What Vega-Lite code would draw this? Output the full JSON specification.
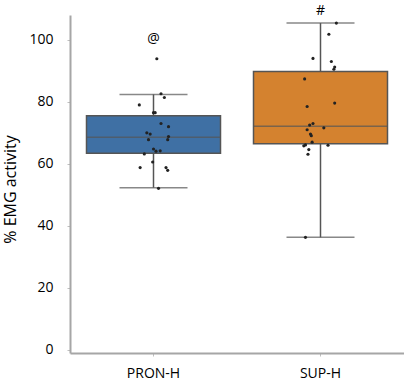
{
  "$schema": "https://vega.github.io/schema/vega-lite/v6.json",
  "width": 334,
  "height": 338,
  "autosize": {"type": "none"},
  "padding": {"left": 70, "top": 15, "right": 0, "bottom": 33},
  "background": "white",
  "config": {
    "view": {"stroke": null},
    "font": "Open Sans",
    "axis": {"grid": false, "labelFont": "Open Sans", "titleFont": "Open Sans", "labelColor": "#000", "titleColor": "#000", "domainColor": "#a6a6a6", "domainWidth": 2, "tickColor": "#bfbfbf", "tickSize": 3}
  },
  "datasets": {
    "boxes": [
      {"group": "PRON-H", "lower": 52.3, "q1": 63.4, "median": 68.6, "q3": 75.5, "upper": 82.4},
      {"group": "SUP-H", "lower": 36.3, "q1": 66.5, "median": 72.1, "q3": 89.8, "upper": 105.4}
    ],
    "points": [
      {"group": "PRON-H", "value": 93.9, "j": 0.04},
      {"group": "PRON-H", "value": 82.6, "j": 0.09},
      {"group": "PRON-H", "value": 81.4, "j": 0.13},
      {"group": "PRON-H", "value": 79.0, "j": -0.17},
      {"group": "PRON-H", "value": 76.5, "j": 0.0},
      {"group": "PRON-H", "value": 76.5, "j": 0.02},
      {"group": "PRON-H", "value": 73.0, "j": 0.09},
      {"group": "PRON-H", "value": 72.0, "j": 0.18},
      {"group": "PRON-H", "value": 70.0, "j": -0.08},
      {"group": "PRON-H", "value": 69.6, "j": -0.04},
      {"group": "PRON-H", "value": 68.8, "j": 0.18},
      {"group": "PRON-H", "value": 67.8, "j": 0.17},
      {"group": "PRON-H", "value": 67.8, "j": -0.06},
      {"group": "PRON-H", "value": 64.8, "j": 0.0},
      {"group": "PRON-H", "value": 64.1, "j": 0.03},
      {"group": "PRON-H", "value": 64.2, "j": 0.08},
      {"group": "PRON-H", "value": 63.2, "j": -0.11},
      {"group": "PRON-H", "value": 60.6, "j": -0.01},
      {"group": "PRON-H", "value": 58.8, "j": -0.16},
      {"group": "PRON-H", "value": 58.8, "j": 0.15},
      {"group": "PRON-H", "value": 57.9, "j": 0.17},
      {"group": "PRON-H", "value": 52.1, "j": 0.06},
      {"group": "SUP-H", "value": 105.4, "j": 0.19},
      {"group": "SUP-H", "value": 101.8, "j": 0.10},
      {"group": "SUP-H", "value": 94.0, "j": -0.09},
      {"group": "SUP-H", "value": 93.0, "j": 0.13},
      {"group": "SUP-H", "value": 91.2, "j": 0.17},
      {"group": "SUP-H", "value": 90.5, "j": 0.16},
      {"group": "SUP-H", "value": 87.4, "j": -0.19},
      {"group": "SUP-H", "value": 79.6, "j": 0.17},
      {"group": "SUP-H", "value": 78.5, "j": -0.16},
      {"group": "SUP-H", "value": 73.0, "j": -0.09},
      {"group": "SUP-H", "value": 72.5, "j": -0.13},
      {"group": "SUP-H", "value": 71.6, "j": 0.04},
      {"group": "SUP-H", "value": 71.0, "j": -0.16},
      {"group": "SUP-H", "value": 69.6, "j": -0.12},
      {"group": "SUP-H", "value": 69.1, "j": -0.11},
      {"group": "SUP-H", "value": 67.0, "j": -0.10},
      {"group": "SUP-H", "value": 66.1, "j": -0.18},
      {"group": "SUP-H", "value": 65.8, "j": -0.20},
      {"group": "SUP-H", "value": 66.0, "j": 0.09},
      {"group": "SUP-H", "value": 64.6, "j": -0.14},
      {"group": "SUP-H", "value": 63.1, "j": -0.15},
      {"group": "SUP-H", "value": 36.3, "j": -0.18}
    ],
    "notes": [
      {"group": "PRON-H", "label": "@", "value": 100.3},
      {"group": "SUP-H", "label": "#", "value": 109.4}
    ]
  },
  "encoding": {
    "x": {
      "field": "group", "type": "nominal", "sort": ["PRON-H", "SUP-H"],
      "scale": {"paddingInner": 0, "paddingOuter": 0},
      "axis": {"title": null, "labelAngle": 0, "labelFontSize": 14, "labelPadding": 10, "tickSize": 3}
    }
  },
  "layer": [
    {
      "data": {"name": "boxes"},
      "mark": {"type": "rule", "color": "#555555", "strokeWidth": 1.5},
      "encoding": {
        "y": {
          "field": "lower", "type": "quantitative",
          "scale": {"domain": [-1, 108], "nice": false, "zero": false},
          "axis": {"title": "% EMG activity", "values": [0, 20, 40, 60, 80, 100], "labelFontSize": 14, "labelPadding": 14, "titleFontSize": 16, "titleFontWeight": "normal", "titleX": -60, "titleY": 174, "titleAlign": "center", "titleBaseline": "middle", "titleAngle": -90}
        },
        "y2": {"field": "upper"}
      }
    },
    {
      "data": {"name": "boxes"},
      "mark": {"type": "tick", "color": "#555555", "thickness": 1.5, "size": 68},
      "encoding": {"y": {"field": "lower", "type": "quantitative"}}
    },
    {
      "data": {"name": "boxes"},
      "mark": {"type": "tick", "color": "#555555", "thickness": 1.5, "size": 68},
      "encoding": {"y": {"field": "upper", "type": "quantitative"}}
    },
    {
      "data": {"name": "boxes"},
      "mark": {"type": "bar", "size": 134, "stroke": "#555555", "strokeWidth": 1.5},
      "encoding": {
        "y": {"field": "q1", "type": "quantitative"},
        "y2": {"field": "q3"},
        "color": {"field": "group", "type": "nominal", "scale": {"domain": ["PRON-H", "SUP-H"], "range": ["#3f70a4", "#d4822f"]}, "legend": null}
      }
    },
    {
      "data": {"name": "boxes"},
      "mark": {"type": "tick", "color": "#555555", "thickness": 1.5, "size": 134},
      "encoding": {"y": {"field": "median", "type": "quantitative"}}
    },
    {
      "data": {"name": "points"},
      "mark": {"type": "circle", "color": "#222222", "opacity": 1, "size": 10},
      "encoding": {
        "y": {"field": "value", "type": "quantitative"},
        "xOffset": {"field": "j", "type": "quantitative", "scale": {"domain": [-1, 1]}}
      }
    },
    {
      "data": {"name": "notes"},
      "mark": {"type": "text", "fontSize": 14, "color": "#000", "baseline": "middle"},
      "encoding": {
        "y": {"field": "value", "type": "quantitative"},
        "text": {"field": "label"}
      }
    }
  ]
}
